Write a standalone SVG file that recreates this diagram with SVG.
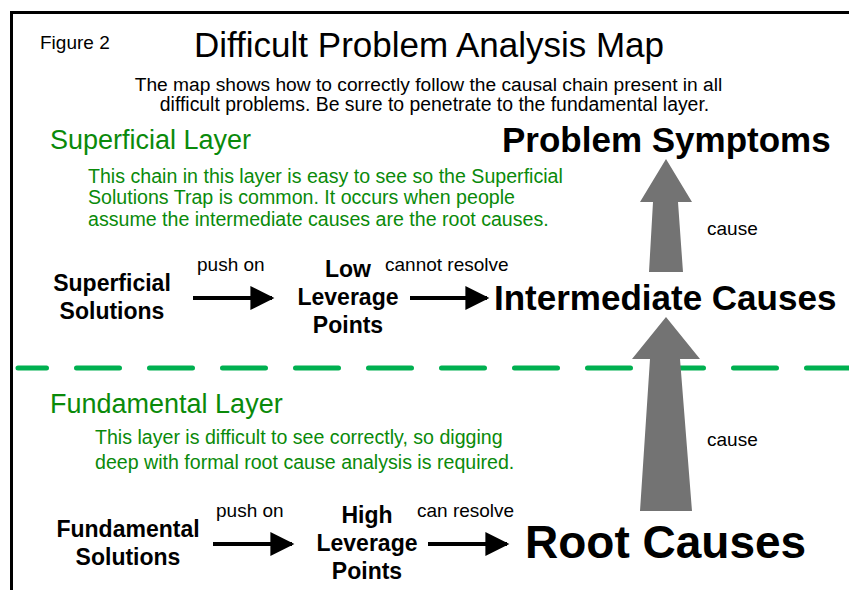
<svg xmlns="http://www.w3.org/2000/svg" width="849" height="590" viewBox="0 0 849 590">
<defs>
<style>
.t{font-family:"Liberation Sans",Arial,sans-serif;fill:#000}
.s{font-size:19px}
.b{font-weight:bold;font-size:23px;text-anchor:middle}
.big{font-weight:bold;font-size:35px}
.g{fill:#0a8a0a}
.p{font-size:19.6px}
.conn{stroke:#000;stroke-width:4;fill:none}
.gray{fill:#737373}
</style>
<marker id="ah" viewBox="0 0 10 10" refX="9" refY="5" markerWidth="6.5" markerHeight="6" markerUnits="strokeWidth" orient="auto">
<path d="M0,0 L10,5 L0,10 Z" fill="#000"/>
</marker>
</defs>
<rect width="849" height="590" fill="#fff"/>
<rect x="11.5" y="12.5" width="900" height="700" fill="none" stroke="#000" stroke-width="3"/>

<g id="header">
<text class="t s" x="40" y="49">Figure 2</text>
<text class="t" x="429" y="57" font-size="35" text-anchor="middle">Difficult Problem Analysis Map</text>
<text class="t" x="428.5" y="91" font-size="19.2" text-anchor="middle">The map shows how to correctly follow the causal chain present in all</text>
<text class="t" x="434.5" y="111" font-size="19.4" text-anchor="middle">difficult problems. Be sure to penetrate to the fundamental layer.</text>
</g>

<g id="superficial-layer">
<text class="t g" x="50" y="149" font-size="27">Superficial Layer</text>
<text class="t g p" x="88" y="183">This chain in this layer is easy to see so the Superficial</text>
<text class="t g p" x="88" y="204">Solutions Trap is common. It occurs when people</text>
<text class="t g p" x="88" y="226">assume the intermediate causes are the root causes.</text>
</g>

<g id="divider">
<line x1="18" y1="368" x2="849" y2="368" stroke="#00b050" stroke-width="5" stroke-linecap="round" stroke-dasharray="43 30" stroke-dashoffset="14.5"/>
</g>

<g id="fundamental-layer">
<text class="t g" x="50" y="413" font-size="27">Fundamental Layer</text>
<text class="t g p" x="95" y="444">This layer is difficult to see correctly, so digging</text>
<text class="t g p" x="95" y="469">deep with formal root cause analysis is required.</text>
</g>

<g id="problem-symptoms">
<text class="t big" x="502" y="152">Problem Symptoms</text>
</g>
<g id="intermediate-causes">
<text class="t big" x="494" y="310">Intermediate Causes</text>
</g>
<g id="root-causes">
<text class="t" x="525" y="558" font-size="46" font-weight="bold">Root Causes</text>
</g>
<g id="superficial-solutions">
<text class="t b" x="112" y="291">Superficial</text>
<text class="t b" x="112" y="319">Solutions</text>
</g>
<g id="low-leverage-points">
<text class="t b" x="348" y="277">Low</text>
<text class="t b" x="348" y="305">Leverage</text>
<text class="t b" x="348" y="333">Points</text>
</g>
<g id="fundamental-solutions">
<text class="t b" x="128" y="537">Fundamental</text>
<text class="t b" x="128" y="565">Solutions</text>
</g>
<g id="high-leverage-points">
<text class="t b" x="367" y="523">High</text>
<text class="t b" x="367" y="551">Leverage</text>
<text class="t b" x="367" y="579">Points</text>
</g>

<g id="connectors">
<line class="conn" x1="193" y1="298" x2="272" y2="298" marker-end="url(#ah)"/>
<line class="conn" x1="410" y1="298" x2="487" y2="298" marker-end="url(#ah)"/>
<line class="conn" x1="213" y1="544" x2="292" y2="544" marker-end="url(#ah)"/>
<line class="conn" x1="428" y1="544" x2="507" y2="544" marker-end="url(#ah)"/>
<path class="gray" d="M666,159 L692,202 L678,202 L683,272 L649,272 L653,202 L640,202 Z"/>
<path class="gray" d="M666,317 L700,359 L680,359 L692,511 L640,511 L650,359 L632,359 Z"/>
<text class="t s" x="197" y="271">push on</text>
<text class="t s" x="385" y="271">cannot resolve</text>
<text class="t s" x="216" y="517">push on</text>
<text class="t s" x="417" y="517">can resolve</text>
<text class="t s" x="707" y="235">cause</text>
<text class="t s" x="707" y="446">cause</text>
</g>
</svg>
